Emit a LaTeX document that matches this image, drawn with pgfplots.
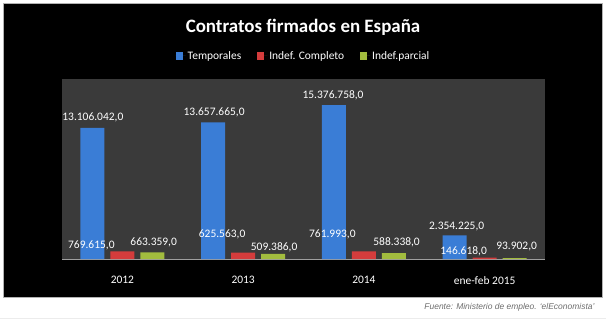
\documentclass[border=0pt]{standalone}
\usepackage{pgfplots}
\pgfplotsset{compat=1.18}
\usepackage{pgfplotstable}
\usepackage{fontspec}
\setmainfont{Carlito}
\newfontfamily\footfont{Liberation Sans}

\definecolor{plotbg}{HTML}{3A3A3A}
\definecolor{blueM}{HTML}{3A7DD6}
\definecolor{redM}{HTML}{D43C3C}
\definecolor{greenM}{HTML}{A2BC3E}
\definecolor{footgray}{HTML}{6E6E6E}

\pgfplotstableread{
x y lab dx dy
0 13106042 13.106.042,0 0.5 10.3
1 13657665 13.657.665,0 1 10
2 15376758 15.376.758,0 -0.8 9.5
3 2354225 2.354.225,0 2 9.3
}\temporales
\pgfplotstableread{
x y lab dx dy
0 769615 769.615,0 -31 6.3
1 625563 625.563,0 -21 18.7
2 761993 761.993,0 -31.5 17.4
3 146618 146.618,0 -21 6.5
}\completo
\pgfplotstableread{
x y lab dx dy
0 663359 663.359,0 1.3 10.4
1 509386 509.386,0 1 6.9
2 588338 588.338,0 2.7 10.6
3 93902 93.902,0 2 11.4
}\parcial

\begin{document}
\begin{tikzpicture}[x=1bp,y=1bp]
\fill[white] (0,0) rectangle (606,322);
\draw[gray!15] (0,4) -- (606,4);
\draw[fill=black, draw=gray!60, line width=0.8bp] (3.5,25) rectangle (602.5,318.5);
\node[text=white, font=\fontsize{19}{22}\selectfont\bfseries] at (303,295) {Contratos firmados en España};
\node[anchor=east, text=footgray, font=\footfont\itshape\fontsize{8.5}{10}\selectfont] at (598,15) {Fuente: Ministerio de empleo. ‘elEconomista’};
\begin{axis}[
  at={(62bp,63bp)}, anchor=south west,
  scale only axis, width=483bp, height=180bp,
  xmin=-0.5, xmax=3.5, ymin=0, ymax=18000000,
  axis background/.style={fill=plotbg},
  axis x line*=bottom,
  axis y line=none,
  x axis line style={draw=gray!75, line width=1bp, -},
  xtick={0,1,2,3},
  xticklabels={2012,2013,2014,ene-feb 2015},
  major tick length=0pt,
  xticklabel style={text=white, font=\fontsize{11.5}{13}\selectfont, yshift=-14bp},
  /pgf/number format/assume math mode=true,
  ybar, bar width=24bp,
  nodes near coords,
  point meta=explicit symbolic,
  every node near coord/.append style={text=white, font=\fontsize{11.5}{13}\selectfont, anchor=center, inner sep=0pt},
  legend columns=3,
  legend style={at={(0.5,1)}, anchor=center, yshift=23bp, draw=none, fill=none,
    text=white, font=\fontsize{11.5}{13}\selectfont,
    /tikz/every even column/.append style={column sep=14bp}},
  legend image code/.code={\fill[#1] (0bp,-3.5bp) rectangle (7bp,3.5bp); \path (0bp,0bp) -- (10bp,0bp);},
]
\addplot[draw=none, fill=blueM, bar shift=-30bp,
  visualization depends on={\thisrow{dx} \as \dx},
  visualization depends on={\thisrow{dy} \as \dy},
  every node near coord/.append style={xshift=\dx bp, yshift=\dy bp}]
  table[x=x, y=y, meta=lab] {\temporales};
\addlegendentry{Temporales}
\addplot[draw=none, fill=redM, bar shift=0bp,
  visualization depends on={\thisrow{dx} \as \dx},
  visualization depends on={\thisrow{dy} \as \dy},
  every node near coord/.append style={xshift=\dx bp, yshift=\dy bp}]
  table[x=x, y=y, meta=lab] {\completo};
\addlegendentry{Indef. Completo}
\addplot[draw=none, fill=greenM, bar shift=30bp,
  visualization depends on={\thisrow{dx} \as \dx},
  visualization depends on={\thisrow{dy} \as \dy},
  every node near coord/.append style={xshift=\dx bp, yshift=\dy bp}]
  table[x=x, y=y, meta=lab] {\parcial};
\addlegendentry{Indef.parcial}
\end{axis}
\pgfresetboundingbox
\path (0,0) rectangle (606,322);
\end{tikzpicture}
\end{document}
